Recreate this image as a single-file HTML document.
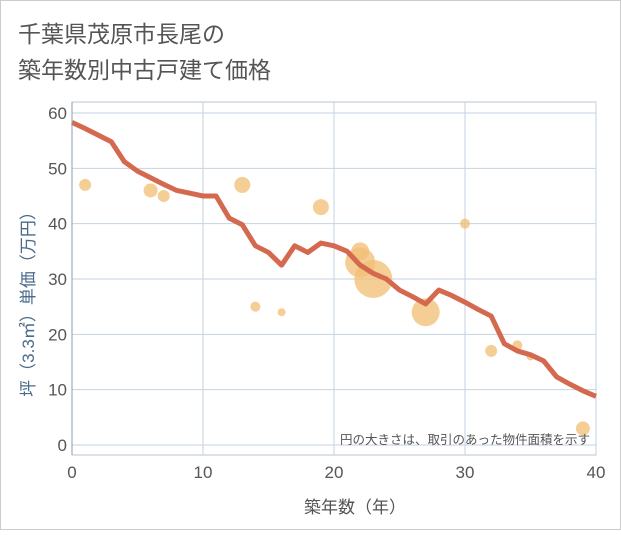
<!DOCTYPE html>
<html><head><meta charset="utf-8"><style>
body{margin:0;background:#fff}
svg text{font-family:"Liberation Sans","Noto Sans CJK JP",sans-serif}
</style></head><body>
<svg width="621" height="530">
<rect x="0.5" y="0.5" width="620" height="529" fill="#fff" stroke="#ccc"/>
<text x="18" y="42" font-size="23" fill="#555">千葉県茂原市長尾の</text>
<text x="18" y="78" font-size="23" fill="#555">築年数別中古戸建て価格</text>
<g id="grid"></g>
<g id="bubbles"></g>
<g id="line"></g>
<g id="axes"></g>
<text x="590" y="444" font-size="12.5" fill="#555" text-anchor="end">円の大きさは、取引のあった物件面積を示す</text>
<text x="355" y="513" font-size="17" fill="#555" text-anchor="middle">築年数（年）</text>
<text transform="translate(34,300) rotate(-90)" font-size="17" fill="#4a6a8a" text-anchor="middle">坪（3.3㎡）単価（万円）</text>
</svg>
<script>
const xTicks=[0,10,20,30,40];
const yTicks=[0,10,20,30,40,50,60];
const lineX=[0,1,2,3,4,5,6,7,8,9,10,11,12,13,14,15,16,17,18,19,20,21,22,23,24,25,26,27,28,29,30,31,32,33,34,35,36,37,38,39,40];
const lineY=[58.3,57.2,56,54.8,51.2,49.5,48.3,47.1,46,45.5,45,45,41,39.8,36,34.8,32.5,36,34.8,36.5,36,35,32.5,31,30,28,26.8,25.5,28,27,25.8,24.5,23.3,18.3,17,16.3,15.2,12.3,11,9.8,8.8];
const bubX=[1,6,7,13,14,16,19,22,22,23,27,30,32,34,35,39];
const bubY=[47,46,45,47,25,24,43,35,33,30,24,40,17,18,16,3];
const bubR=[6,7,6,8,5,4,8,9,15,19,14,5,6,5,4,7];
const NS='http://www.w3.org/2000/svg';
const X0=72,X1=596,Y0=445,Y60=113,TOP=102,BOT=455;
const sx=v=>X0+(X1-X0)*v/40;
const sy=v=>Y0-(Y0-Y60)*v/60;
function mk(tag,attrs,parent){const e=document.createElementNS(NS,tag);for(const k in attrs)e.setAttribute(k,attrs[k]);parent.appendChild(e);return e;}
const grid=document.getElementById('grid'),axes=document.getElementById('axes');
mk('rect',{x:X0,y:TOP,width:X1-X0,height:BOT-TOP,fill:'none',stroke:'#b8c4d2'},grid);
xTicks.forEach(t=>{const l=mk('line',{x1:sx(t),x2:sx(t),y1:TOP,y2:BOT,stroke:'#c5d2e0'},grid);

const tx=mk('text',{x:sx(t),y:478,'font-size':17,fill:'#555','text-anchor':'middle'},axes);tx.textContent=t;
});
yTicks.forEach(t=>{const l=mk('line',{x1:X0,x2:X1,y1:sy(t),y2:sy(t),stroke:'#c5d2e0'},grid);

const tx=mk('text',{x:67,y:sy(t)+6,'font-size':17,fill:'#555','text-anchor':'end'},axes);tx.textContent=t;
});
mk('line',{x1:X0,x2:X0,y1:TOP,y2:BOT,stroke:'#8a9bb0'},axes);
const bg=document.getElementById('bubbles');
bubX.forEach((v,i)=>{const c=mk('circle',{cx:sx(v),cy:sy(bubY[i]),r:bubR[i],fill:'rgba(242,190,115,0.75)'},bg);
});
const p=mk('polyline',{points:lineX.map((v,i)=>sx(v)+','+sy(lineY[i])).join(' '),fill:'none',stroke:'#d4694f','stroke-width':5,'stroke-linejoin':'round'},document.getElementById('line'));

</script>
</body></html>
